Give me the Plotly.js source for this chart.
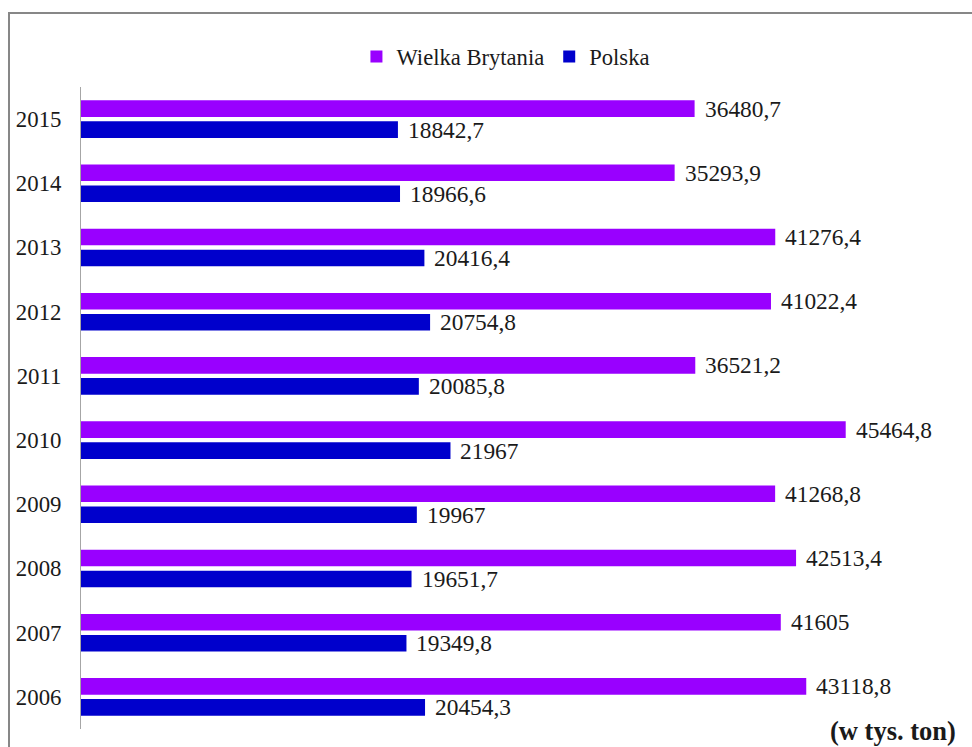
<!DOCTYPE html>
<html>
<head>
<meta charset="utf-8">
<script src="https://cdn.plot.ly/plotly-3.0.1.min.js"></script>
<style>
html,body{margin:0;padding:0;background:#fff;}
#chart{width:972px;height:747px;}
</style>
</head>
<body>
<div id="chart"></div>
<script>
const years = ['2006','2007','2008','2009','2010','2011','2012','2013','2014','2015'];
const ukValues = [43118.8, 41605, 42513.4, 41268.8, 45464.8, 36521.2, 41022.4, 41276.4, 35293.9, 36480.7];
const plValues = [20454.3, 19349.8, 19651.7, 19967, 21967, 20085.8, 20754.8, 20416.4, 18966.6, 18842.7];
const seriesNames = ['Wielka Brytania', 'Polska'];
const unitLabel = '(w tys. ton)';

const fmt = v => String(v).replace('.', ',');
const FONT = '"Liberation Serif", "Times New Roman", serif';

const traces = [
  {type:'bar', orientation:'h', name:seriesNames[1], y:years, x:plValues,
   marker:{color:'#0000CC'}, hoverinfo:'skip'},
  {type:'bar', orientation:'h', name:seriesNames[0], y:years, x:ukValues,
   marker:{color:'#9900FF'}, hoverinfo:'skip'}
];

const annotations = [];
years.forEach((yr,i)=>{
  annotations.push({x:ukValues[i], y:i, xref:'x', yref:'y', text:fmt(ukValues[i]),
    showarrow:false, xanchor:'left', yanchor:'middle', xshift:8, yshift:10.5,
    font:{family:FONT, size:23.4, color:'#1a1a1a'}});
  annotations.push({x:plValues[i], y:i, xref:'x', yref:'y', text:fmt(plValues[i]),
    showarrow:false, xanchor:'left', yanchor:'middle', xshift:8, yshift:-10.5,
    font:{family:FONT, size:23.4, color:'#1a1a1a'}});
});
annotations.push({x:(958-81)/869, y:(729-731)/642, xref:'paper', yref:'paper', text:'<b>'+unitLabel+'</b>',
  showarrow:false, xanchor:'right', yanchor:'middle',
  font:{family:FONT, size:26.5, color:'#1a1a1a'}});

const layout = {
  width:972, height:747,
  margin:{l:81, r:22, t:87, b:18},
  paper_bgcolor:'#fff', plot_bgcolor:'#fff',
  barmode:'group', bargap:0.345, bargroupgap:0.21,
  showlegend:true,
  legend:{orientation:'h', x:0.489, xanchor:'center', y:1.047, yanchor:'middle',
    traceorder:'reversed', font:{family:FONT, size:22.6, color:'#1a1a1a'}},
  xaxis:{range:[0, 51665], visible:false, fixedrange:true},
  yaxis:{type:'category', categoryorder:'array', categoryarray:years, range:[-0.5, 9.5],
    showline:true, linecolor:'#A6A6A6', linewidth:1, showgrid:false, zeroline:false,
    ticks:'', ticklabelstandoff:14,
    tickfont:{family:FONT, size:22.8, color:'#1a1a1a'}, fixedrange:true},
  annotations: annotations,
  shapes:[
    {type:'rect', xref:'paper', yref:'paper', x0:(9-81)/869, x1:1.04, y0:-0.05, y1:(729-13)/642,
     line:{color:'#878787', width:2}, fillcolor:'rgba(0,0,0,0)', layer:'below'}
  ]
};

Plotly.newPlot('chart', traces, layout, {displayModeBar:false, staticPlot:true});
</script>
</body>
</html>
